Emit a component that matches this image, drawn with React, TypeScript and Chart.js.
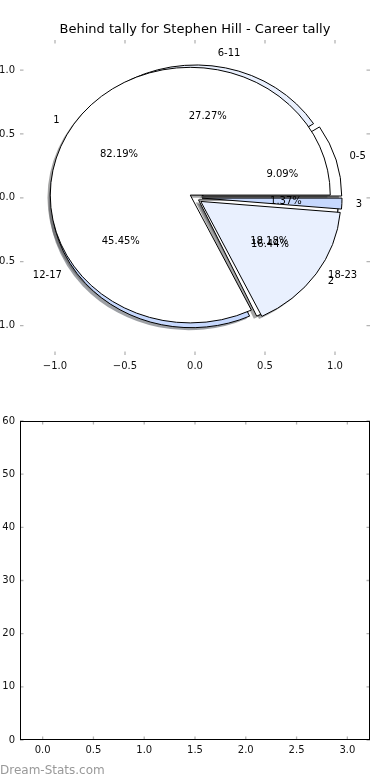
import React, { useEffect, useRef } from 'react';
import { Chart, registerables } from 'chart.js';

Chart.register(...registerables);

// ---- data ----
const TITLE = 'Behind tally for Stephen Hill - Career tally';
const WATERMARK = 'Dream-Stats.com';
const tallyLabels = ['1', '2', '3'];
const tallyValues = [60, 12, 1];
const hourLabels = ['0-5', '6-11', '12-17', '18-23'];
const hourValues = [1, 3, 5, 2];
const pieTicks = [-1.0, -0.5, 0.0, 0.5, 1.0];
const bottomXTicks = [0, 0.5, 1, 1.5, 2, 2.5, 3];
const bottomYTicks = [0, 10, 20, 30, 40, 50, 60];

// ---- styles ----
const sliceColors = ['#ffffff', '#e9f0fe', '#c6d8fd'];
const tallyExplode = [0.04, 0.05, 0.05];
const hourExplode = [0.05, 0.04, 0.03, 0.03];
const FONT = '"DejaVu Sans", sans-serif';
const TICK_GREY = '#b4b4b4';

const fmt = (v: number) => {
  const s = Math.abs(v).toFixed(1);
  return v < 0 ? '\u2212' + s : s;
};

type Wedge = { t1: number; t2: number; mid: number; cx: number; cy: number; color: string; frac: number; label: string };

function computeWedges(values: number[], labels: string[], explode: number[]): Wedge[] {
  const total = values.reduce((a, b) => a + b, 0);
  let start = 0;
  return values.map((v, i) => {
    const sweep = (2 * Math.PI * v) / total;
    const t1 = start;
    const t2 = start + sweep;
    start = t2;
    const mid = (t1 + t2) / 2;
    return {
      t1, t2, mid,
      cx: explode[i] * Math.cos(mid),
      cy: explode[i] * Math.sin(mid),
      color: sliceColors[i % sliceColors.length],
      frac: v / total,
      label: labels[i],
    };
  });
}

function wedgePath(ctx: CanvasRenderingContext2D, xs: any, ys: any, w: Wedge, ox = 0, oy = 0) {
  const px = xs.getPixelForValue(w.cx + ox);
  const py = ys.getPixelForValue(w.cy + oy);
  const rx = xs.getPixelForValue(1) - xs.getPixelForValue(0);
  const ry = ys.getPixelForValue(0) - ys.getPixelForValue(1);
  ctx.beginPath();
  ctx.moveTo(px, py);
  ctx.ellipse(px, py, rx, ry, 0, -w.t1, -w.t2, true);
  ctx.closePath();
}

function shadeColor(hex: string) {
  const r = parseInt(hex.slice(1, 3), 16);
  const g = parseInt(hex.slice(3, 5), 16);
  const b = parseInt(hex.slice(5, 7), 16);
  return `rgba(${Math.round(r * 0.3)},${Math.round(g * 0.3)},${Math.round(b * 0.3)},0.5)`;
}

const piePlugin = {
  id: 'pies',
  afterDatasetsDraw(chart: any) {
    const ctx: CanvasRenderingContext2D = chart.ctx;
    const xs = chart.scales.x;
    const ys = chart.scales.y;
    const hours = computeWedges(hourValues, hourLabels, hourExplode);
    const tally = computeWedges(tallyValues, tallyLabels, tallyExplode);
    ctx.save();
    // shadows
    for (const w of [...hours, ...tally]) {
      wedgePath(ctx, xs, ys, w, -0.02, -0.02);
      ctx.fillStyle = shadeColor(w.color);
      ctx.fill();
    }
    // wedges
    for (const w of [...hours, ...tally]) {
      wedgePath(ctx, xs, ys, w);
      ctx.fillStyle = w.color;
      ctx.fill();
      ctx.lineWidth = 1;
      ctx.strokeStyle = '#000';
      ctx.lineJoin = 'miter';
      ctx.stroke();
    }
    // texts
    ctx.fillStyle = '#000';
    ctx.font = `10px ${FONT}`;
    ctx.textBaseline = 'middle';
    for (const w of [...hours, ...tally]) {
      const lx = w.cx + 1.1 * Math.cos(w.mid);
      const ly = w.cy + 1.1 * Math.sin(w.mid);
      ctx.textAlign = lx > 0 ? 'left' : 'right';
      ctx.fillText(w.label, xs.getPixelForValue(lx), ys.getPixelForValue(ly));
    }
    for (const w of [...hours, ...tally]) {
      const lx = w.cx + 0.6 * Math.cos(w.mid);
      const ly = w.cy + 0.6 * Math.sin(w.mid);
      ctx.textAlign = 'center';
      ctx.fillText((w.frac * 100).toFixed(2) + '%', xs.getPixelForValue(lx), ys.getPixelForValue(ly));
    }
    // title
    ctx.font = `13px ${FONT}`;
    ctx.textAlign = 'center';
    ctx.fillText(TITLE, (chart.chartArea.left + chart.chartArea.right) / 2, 30);
    ctx.restore();
  },
};

function makeTickPlugin(frame: boolean) {
  return {
    id: 'innerTicks',
    afterDraw(chart: any) {
      const ctx: CanvasRenderingContext2D = chart.ctx;
      const { left, right, top, bottom } = chart.chartArea;
      const xs = chart.scales.x;
      const ys = chart.scales.y;
      const L = 3.5;
      ctx.save();
      ctx.strokeStyle = TICK_GREY;
      ctx.lineWidth = 1.3;
      ctx.beginPath();
      for (const t of xs.ticks) {
        const x = xs.getPixelForValue(t.value);
        ctx.moveTo(x, top); ctx.lineTo(x, top + L);
        ctx.moveTo(x, bottom); ctx.lineTo(x, bottom - L);
      }
      for (const t of ys.ticks) {
        const y = ys.getPixelForValue(t.value);
        ctx.moveTo(left, y); ctx.lineTo(left + L, y);
        ctx.moveTo(right, y); ctx.lineTo(right - L, y);
      }
      ctx.stroke();
      if (frame) {
        ctx.strokeStyle = '#000';
        ctx.lineWidth = 1;
        ctx.strokeRect(Math.round(left) + 0.5, Math.round(top) + 0.5, Math.round(right - left) - 1, Math.round(bottom - top) - 1);
      }
      ctx.restore();
    },
  };
}

function axisBase(min: number, max: number, ticks: number[], fitter: (s: any) => void, format: (v: number) => string, padding: number) {
  return {
    type: 'linear' as const,
    min, max,
    grid: { display: false, drawTicks: false },
    border: { display: false },
    afterBuildTicks: (s: any) => { s.ticks = ticks.map((v) => ({ value: v })); },
    afterFit: fitter,
    ticks: {
      callback: (v: any) => format(Number(v)),
      font: { family: FONT, size: 10 },
      color: '#111',
      padding,
      maxRotation: 0,
      autoSkip: false,
      includeBounds: false,
    },
  };
}

export default function App() {
  const topRef = useRef<HTMLCanvasElement>(null);
  const botRef = useRef<HTMLCanvasElement>(null);

  useEffect(() => {
    const top = new Chart(topRef.current!, {
      type: 'scatter',
      data: { datasets: [{ data: [] }] },
      options: {
        animation: false,
        responsive: false,
        maintainAspectRatio: false,
        layout: { padding: { left: 0, right: 20, top: 40, bottom: 0 } },
        plugins: { legend: { display: false }, tooltip: { enabled: false }, title: { display: false } },
        scales: {
          x: axisBase(-1.25, 1.25, pieTicks, (s) => { s.height = 25; }, fmt, 5),
          y: axisBase(-1.23, 1.235, pieTicks, (s) => { s.width = 20; }, fmt, 5),
        },
      } as any,
      plugins: [piePlugin, makeTickPlugin(false)],
    });
    const bot = new Chart(botRef.current!, {
      type: 'scatter',
      data: { datasets: [{ data: [] }] },
      options: {
        animation: false,
        responsive: false,
        maintainAspectRatio: false,
        layout: { padding: { left: 0, right: 20, top: 41, bottom: 0 } },
        plugins: { legend: { display: false }, tooltip: { enabled: false }, title: { display: false } },
        scales: {
          x: axisBase(-0.223, 3.223, bottomXTicks, (s) => { s.height = 40; }, (v) => v.toFixed(1), 4),
          y: axisBase(0, 60, bottomYTicks, (s) => { s.width = 20; }, (v) => String(Math.round(v)), 5),
        },
      } as any,
      plugins: [makeTickPlugin(true)],
    });
    return () => { top.destroy(); bot.destroy(); };
  }, []);

  return (
    <div style={{ position: 'absolute', left: 0, top: 0, width: 390, height: 780, background: '#fff', overflow: 'hidden' }}>
      <canvas ref={topRef} width={390} height={380} style={{ position: 'absolute', left: 0, top: 0, width: 390, height: 380, display: 'block' }} />
      <canvas ref={botRef} width={390} height={400} style={{ position: 'absolute', left: 0, top: 380, width: 390, height: 400, display: 'block' }} />
      <div style={{ position: 'absolute', left: 0, top: 762, fontFamily: FONT, fontSize: 12, color: '#999', lineHeight: '16px', whiteSpace: 'nowrap' }}>
        {WATERMARK}
      </div>
    </div>
  );
}
